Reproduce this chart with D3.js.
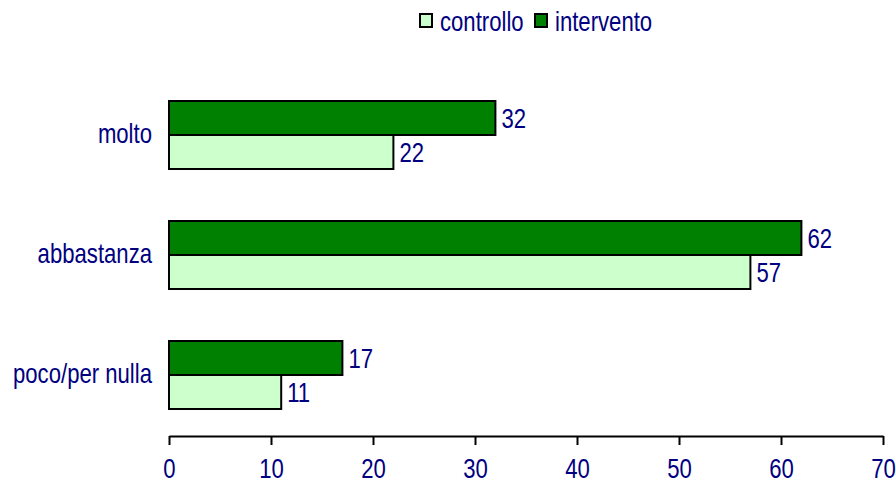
<!DOCTYPE html>
<html>
<head>
<meta charset="utf-8">
<script src="https://cdn.jsdelivr.net/npm/d3@7"></script>
<style>
  body { margin: 0; background: #fff; }
  text { font-family: "Liberation Sans", Arial, sans-serif; fill: #000080; }
</style>
</head>
<body>
<div id="chart"></div>
<script>
// data
var categories = ["molto", "abbastanza", "poco/per nulla"];
var seriesNames = ["intervento", "controllo"];
var intervento = [32, 62, 17];
var controllo = [22, 57, 11];
var xTicks = [0, 10, 20, 30, 40, 50, 60, 70];

var width = 896, height = 485;
var colors = { controllo: "#ccffcc", intervento: "#008000" };
var fontFam = "Liberation Sans, Arial, sans-serif";
var fs = 27, narrow = 0.82; // the original font is a tall, narrow Arial

var svg = d3.select("#chart").append("svg")
    .attr("width", width).attr("height", height);

var x = d3.scaleLinear().domain([0, 70]).range([169, 883]);
var y = d3.scaleBand().domain(categories).range([101, 409]).paddingInner(52 / 120).paddingOuter(0);
var ySub = d3.scaleBand().domain(seriesNames).range([0, y.bandwidth()]);

var rows = categories.map(function(c, i) {
  return { cat: c, intervento: intervento[i], controllo: controllo[i] };
});

function squeeze(tx, ty) {
  return "translate(" + tx + "," + ty + ") scale(" + narrow + ",1)";
}

var groups = svg.append("g").selectAll("g")
    .data(rows).enter().append("g")
    .attr("transform", function(d) { return "translate(0," + y(d.cat) + ")"; });

groups.selectAll("rect")
    .data(function(d) { return seriesNames.map(function(s) { return { s: s, v: d[s] }; }); })
    .enter().append("rect")
    .attr("x", x(0))
    .attr("y", function(d) { return ySub(d.s); })
    .attr("width", function(d) { return x(d.v) - x(0); })
    .attr("height", ySub.bandwidth())
    .attr("fill", function(d) { return colors[d.s]; })
    .attr("stroke", "#000")
    .attr("stroke-width", 2);

groups.selectAll("text.val")
    .data(function(d) { return seriesNames.map(function(s) { return { s: s, v: d[s] }; }); })
    .enter().append("text")
    .attr("class", "val")
    .attr("transform", function(d) { return squeeze(x(d.v) + 6, ySub(d.s) + ySub.bandwidth() / 2); })
    .attr("dy", "0.36em")
    .attr("font-size", fs)
    .text(function(d) { return d.v; });

// category labels
svg.append("g").selectAll("text")
    .data(categories).enter().append("text")
    .attr("transform", function(d) { return squeeze(152, y(d) + y.bandwidth() / 2); })
    .attr("dy", "0.3em")
    .attr("text-anchor", "end")
    .attr("font-size", fs)
    .text(function(d) { return d; });

// x axis
var axis = svg.append("g")
    .attr("transform", "translate(0,436)")
    .call(d3.axisBottom(x).tickValues(xTicks).tickSize(9).tickPadding(14).tickSizeOuter(0));
axis.select(".domain").attr("stroke", "#000").attr("stroke-width", 2);
axis.selectAll(".tick line").attr("stroke", "#000").attr("stroke-width", 2);
axis.selectAll(".tick text")
    .attr("font-size", fs)
    .attr("font-family", fontFam)
    .attr("fill", "#000080")
    .attr("transform", "scale(" + narrow + ",1)");

// legend
var legendItems = [
  { name: "controllo", x: 420 },
  { name: "intervento", x: 535 }
];
var legend = svg.append("g").selectAll("g")
    .data(legendItems).enter().append("g")
    .attr("transform", function(d) { return "translate(" + d.x + ",14)"; });
legend.append("rect")
    .attr("width", 12).attr("height", 13)
    .attr("fill", function(d) { return colors[d.name]; })
    .attr("stroke", "#000").attr("stroke-width", 2);
legend.append("text")
    .attr("transform", squeeze(20, 7))
    .attr("dy", "0.36em")
    .attr("font-size", fs)
    .text(function(d) { return d.name; });
</script>
</body>
</html>
